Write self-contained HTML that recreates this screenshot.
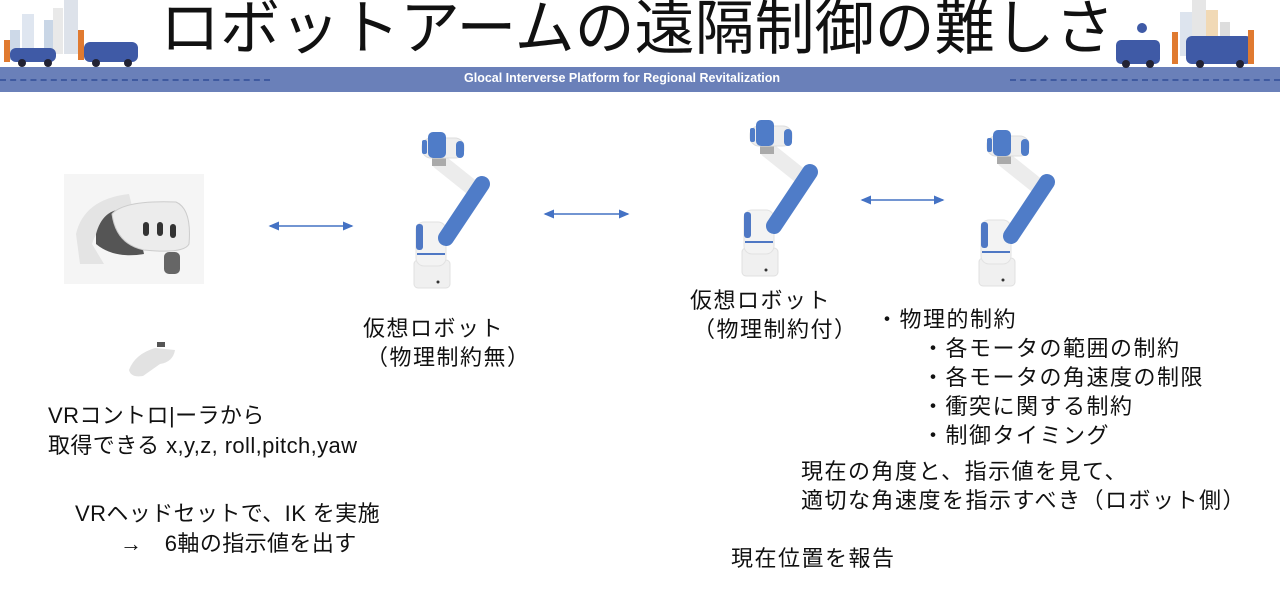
<!DOCTYPE html>
<html><head><meta charset="utf-8"><style>
body{margin:0;width:1280px;height:599px;background:#fff;position:relative;overflow:hidden;font-family:"Liberation Sans","Noto Sans CJK JP",sans-serif;color:#111}
.t{position:absolute;font-size:22px;white-space:nowrap;line-height:28px;letter-spacing:1.5px}
.m{letter-spacing:0.4px}
</style></head><body>
<div style="position:absolute;left:0;top:67px;width:1280px;height:25px;background:#6a80b9"></div>
<div style="position:absolute;left:0;top:79px;width:270px;border-top:2px dashed #3f5aa0"></div>
<div style="position:absolute;left:1010px;top:79px;width:270px;border-top:2px dashed #3f5aa0"></div>
<div style="position:absolute;left:464px;top:71px;font-size:12.5px;font-weight:bold;color:#fff">Glocal Interverse Platform for Regional Revitalization</div>
<div style="position:absolute;left:160px;top:-4px;font-size:60px;line-height:66px;white-space:nowrap">ロボットアームの遠隔制御の難しさ</div>
<svg style="position:absolute;left:0;top:0" width="170" height="68">
<rect x="22" y="14" width="12" height="40" fill="#dfe6f0"/><rect x="44" y="20" width="10" height="34" fill="#c9d6e6"/><rect x="53" y="8" width="10" height="46" fill="#e9e9e9"/><rect x="64" y="0" width="14" height="54" fill="#dde2ea"/>
<rect x="10" y="30" width="10" height="30" fill="#cdd9e8"/>
<rect x="4" y="40" width="6" height="22" fill="#e07a30"/><rect x="78" y="30" width="6" height="30" fill="#e07a30"/>
<rect x="10" y="48" width="46" height="14" rx="6" fill="#3f5aa6"/><rect x="84" y="42" width="54" height="20" rx="6" fill="#3f5aa6"/>
<circle cx="22" cy="63" r="4" fill="#223"/><circle cx="48" cy="63" r="4" fill="#223"/><circle cx="96" cy="63" r="4" fill="#223"/><circle cx="128" cy="63" r="4" fill="#223"/>
</svg>
<svg style="position:absolute;left:1110px;top:0" width="170" height="68">
<rect x="70" y="12" width="12" height="44" fill="#dde4ee"/><rect x="82" y="0" width="14" height="56" fill="#e6e6e6"/><rect x="96" y="10" width="12" height="46" fill="#f1d9b5"/><rect x="110" y="22" width="10" height="34" fill="#ddd"/>
<circle cx="32" cy="28" r="5" fill="#3f5aa6"/>
<rect x="6" y="40" width="44" height="24" rx="5" fill="#3f5aa6"/><rect x="76" y="36" width="66" height="28" rx="6" fill="#3f5aa6"/>
<rect x="62" y="32" width="6" height="32" fill="#e07a30"/><rect x="138" y="30" width="6" height="34" fill="#e07a30"/>
<circle cx="16" cy="64" r="4" fill="#223"/><circle cx="40" cy="64" r="4" fill="#223"/><circle cx="90" cy="64" r="4" fill="#223"/><circle cx="130" cy="64" r="4" fill="#223"/>
</svg>
<svg style="position:absolute;left:64px;top:174px" width="140" height="110">
<rect width="140" height="110" fill="#f5f5f5"/>
<path d="M12 60 Q20 25 65 20 L70 40 Q35 45 28 70 L40 90 L16 90 Z" fill="#e4e4e4"/>
<path d="M32 60 Q40 30 70 36 L80 80 Q50 85 32 70Z" fill="#555"/>
<path d="M48 40 Q60 26 112 28 Q128 35 125 70 Q120 80 80 76 Q52 70 48 40Z" fill="#ececec" stroke="#ccc"/>
<rect x="79" y="48" width="6" height="14" rx="3" fill="#333"/><rect x="93" y="48" width="6" height="14" rx="3" fill="#333"/><rect x="106" y="50" width="6" height="14" rx="3" fill="#333"/>
<rect x="100" y="78" width="16" height="22" rx="5" fill="#666"/>
</svg>
<svg style="position:absolute;left:125px;top:340px" width="55" height="40">
<path d="M4 30 Q10 14 30 8 L50 10 Q48 22 35 24 L18 36 Q6 38 4 30Z" fill="#e2e2e2"/><rect x="32" y="2" width="8" height="5" fill="#555"/>
</svg>
<svg width="0" height="0" style="position:absolute"><defs>
<g id="rb">
<rect x="34" y="150" width="36" height="28" rx="4" fill="#f0f0f0" stroke="#e0e0e0"/>
<rect x="36" y="112" width="30" height="44" rx="8" fill="#f3f3f3" stroke="#e2e2e2"/>
<rect x="36" y="114" width="7" height="26" rx="3" fill="#4f78c4"/>
<rect x="37" y="143" width="28" height="2" fill="#4f78c4"/>
<line x1="60" y1="52" x2="90" y2="76" stroke="#ececec" stroke-width="16" stroke-linecap="round"/>
<line x1="102" y1="74" x2="66" y2="128" stroke="#4f7cc8" stroke-width="16" stroke-linecap="round"/>
<rect x="52" y="46" width="14" height="10" fill="#aaa"/>
<rect x="42" y="28" width="42" height="20" rx="9" fill="#eee" stroke="#ddd"/>
<rect x="48" y="22" width="18" height="26" rx="5" fill="#4f7cc8"/>
<rect x="76" y="31" width="8" height="17" rx="4" fill="#4f7cc8"/>
<rect x="42" y="30" width="5" height="14" rx="2" fill="#4f7cc8"/>
<circle cx="58" cy="172" r="1.5" fill="#333"/>
</g></defs></svg>
<svg style="position:absolute;left:380px;top:110px" width="140" height="200"><use href="#rb"/></svg>
<svg style="position:absolute;left:708px;top:98px" width="140" height="200"><use href="#rb"/></svg>
<svg style="position:absolute;left:945px;top:108px" width="140" height="200"><use href="#rb"/></svg>
<svg style="position:absolute;left:0;top:0" width="1280" height="599">
<defs><marker id="a" markerWidth="8" markerHeight="8" refX="6" refY="4" orient="auto-start-reverse"><path d="M0 1 L7 4 L0 7Z" fill="#4472c4"/></marker></defs>
<line x1="270" y1="226" x2="352" y2="226" stroke="#4472c4" stroke-width="1.5" marker-start="url(#a)" marker-end="url(#a)"/>
<line x1="545" y1="214" x2="628" y2="214" stroke="#4472c4" stroke-width="1.5" marker-start="url(#a)" marker-end="url(#a)"/>
<line x1="862" y1="200" x2="943" y2="200" stroke="#4472c4" stroke-width="1.5" marker-start="url(#a)" marker-end="url(#a)"/>
</svg>
<div class="t" style="left:363px;top:315px">仮想ロボット</div>
<div class="t" style="left:366px;top:344px">（物理制約無）</div>
<div class="t" style="left:690px;top:287px">仮想ロボット</div>
<div class="t" style="left:693px;top:316px">（物理制約付）</div>
<div class="t m" style="left:48px;top:402px">VRコントロ|ーラから</div>
<div class="t m" style="left:48px;top:432px">取得できる x,y,z, roll,pitch,yaw</div>
<div class="t m" style="left:75px;top:500px">VRヘッドセットで、IK を実施</div>
<div class="t m" style="left:120px;top:530px">→　6軸の指示値を出す</div>
<div class="t" style="left:876px;top:306px">・物理的制約</div>
<div class="t" style="left:922px;top:335px">・各モータの範囲の制約</div>
<div class="t" style="left:922px;top:364px">・各モータの角速度の制限</div>
<div class="t" style="left:922px;top:393px">・衝突に関する制約</div>
<div class="t" style="left:922px;top:422px">・制御タイミング</div>
<div class="t" style="left:801px;top:458px">現在の角度と、指示値を見て、</div>
<div class="t" style="left:801px;top:487px">適切な角速度を指示すべき（ロボット側）</div>
<div class="t" style="left:731px;top:545px">現在位置を報告</div>
</body></html>
